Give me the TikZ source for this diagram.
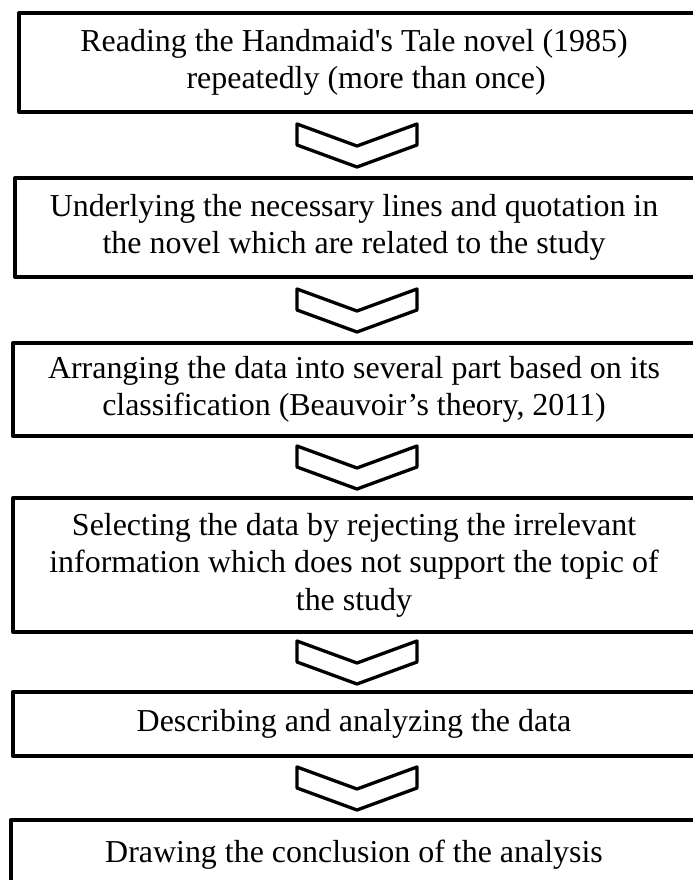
\documentclass[tikz,border=0pt]{standalone}
\usepackage{fontspec}
\setmainfont{Liberation Serif}
\usetikzlibrary{calc}

\newcommand{\pxu}{0.454pt}

\begin{document}
\begin{tikzpicture}
  [ x=0.454pt, y=0.454pt
  , stage/.style={rectangle, draw, line width=1.8pt, line join=round, inner sep=0pt}
  , stagetext/.style={align=center, font=\fontsize{14.5}{17}\selectfont, inner sep=0pt}
  , chevron/.pic={\draw [line width=1.5pt, line join=round]
      (-60,21) -- (-60,0) -- (0,-22) -- (60,0) -- (60,21) -- (0,-1) -- cycle;}
  ]
  \useasboundingbox (0,0) rectangle (693,-880);
  \clip (0,0) rectangle (693,-880);
  % frames
  \node (f1) at (357,-62.5) [stage, minimum width=676*\pxu, minimum height=99*\pxu] {};
  \node (f2) at (357,-227.5) [stage, minimum width=684*\pxu, minimum height=99*\pxu] {};
  \node (f3) at (357,-389.5) [stage, minimum width=688*\pxu, minimum height=93*\pxu] {};
  \node (f4) at (357,-565) [stage, minimum width=688*\pxu, minimum height=134*\pxu] {};
  \node (f5) at (357,-724) [stage, minimum width=688*\pxu, minimum height=64*\pxu] {};
  \node (f6) at (357,-855) [stage, minimum width=692*\pxu, minimum height=70*\pxu] {};
  % texts
  \node (t1) at (354,-62.5) [stagetext] {Reading the Handmaid\textquotesingle s Tale novel (1985)\\
    \hspace*{11pt}repeatedly (more than once)};
  \node (t2) at (354,-227.5) [stagetext] {Underlying the necessary lines and quotation in\\
    the novel which are related to the study};
  \node (t3) at (354,-389.5) [stagetext] {Arranging the data into several part based on its\\
    classification (Beauvoir’s theory, 2011)};
  \node (t4) at (354,-565) [stagetext] {Selecting the data by rejecting the irrelevant\\
    information which does not support the topic of\\ the study};
  \node (t5) at (354,-724) [stagetext] {Describing and analyzing the data};
  \node (t6) at (354,-855) [stagetext] {Drawing the conclusion of the analysis};
  % chevrons
  \pic at ($(f1.south)!.5!(f2.north)$) {chevron};
  \pic at ($(f2.south)!.5!(f3.north)$) {chevron};
  \pic at ($(f3.south)!.5!(f4.north)$) {chevron};
  \pic at ($(f4.south)!.5!(f5.north)$) {chevron};
  \pic at ($(f5.south)!.5!(f6.north)$) {chevron};
\end{tikzpicture}
\end{document}
